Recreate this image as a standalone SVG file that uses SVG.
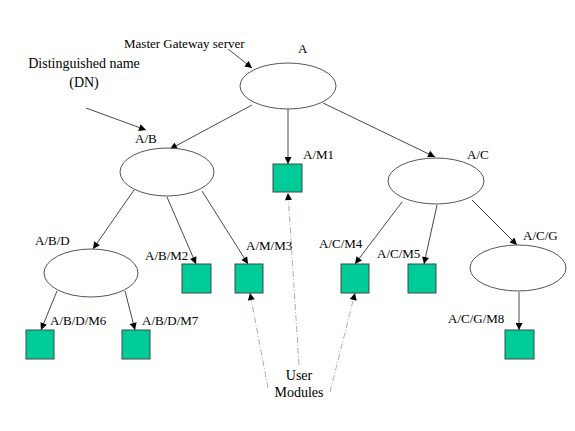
<svg xmlns="http://www.w3.org/2000/svg" width="575" height="431" viewBox="0 0 575 431">
<defs>
<marker id="ah" viewBox="0 0 10 10" refX="10" refY="5" markerWidth="8" markerHeight="7" markerUnits="userSpaceOnUse" orient="auto">
<path d="M0,0 L10,5 L0,10 z" fill="#000"/>
</marker>
</defs>
<style>
.e{fill:#fff;stroke:#555;stroke-width:1}
.m{fill:#00cc99;stroke:#3c4a46;stroke-width:1}
.c{stroke:#333;stroke-width:0.9;fill:none;marker-end:url(#ah)}
.d{stroke:#a4b4a8;stroke-width:1;fill:none;stroke-dasharray:6 2 1 2;marker-end:url(#ah)}
.t{font-family:"Liberation Serif","Times New Roman",serif;font-size:13px;fill:#000}
.b{font-family:"Liberation Serif","Times New Roman",serif;font-size:14px;fill:#000}
</style>
<rect width="575" height="431" fill="#fff"/>
<g id="connectors">
<line class="c" x1="228" y1="49" x2="252" y2="68"/>
<line class="c" x1="86" y1="108" x2="146" y2="130"/>
<line class="c" x1="252" y1="105" x2="170" y2="149"/>
<line class="c" x1="288" y1="109" x2="288" y2="164"/>
<line class="c" x1="323" y1="103" x2="435" y2="157"/>
<line class="c" x1="134" y1="190" x2="93" y2="249"/>
<line class="c" x1="167" y1="197" x2="196" y2="264"/>
<line class="c" x1="202" y1="191" x2="248" y2="264"/>
<line class="c" x1="402" y1="202" x2="355" y2="264"/>
<line class="c" x1="437" y1="205" x2="424" y2="264"/>
<line class="c" x1="472" y1="200" x2="517" y2="245"/>
<line class="c" x1="57" y1="291" x2="41" y2="330"/>
<line class="c" x1="125" y1="291" x2="135" y2="330"/>
<line class="c" x1="519" y1="292" x2="519" y2="330"/>
<line class="d" x1="299" y1="365" x2="288" y2="193"/>
<line class="d" x1="268" y1="388" x2="250" y2="293"/>
<line class="d" x1="330" y1="392" x2="355" y2="293"/>
</g>
<g id="A"><ellipse class="e" cx="288" cy="86" rx="48" ry="23"/><text class="t" x="298" y="53">A</text></g>
<g id="AB"><ellipse class="e" cx="167" cy="172" rx="47" ry="24"/><text class="t" x="135" y="143">A/B</text></g>
<g id="AC"><ellipse class="e" cx="436" cy="181" rx="48" ry="23"/><text class="t" x="467" y="159">A/C</text></g>
<g id="ABD"><ellipse class="e" cx="91" cy="273" rx="47" ry="24"/><text class="t" x="35" y="245">A/B/D</text></g>
<g id="ACG"><ellipse class="e" cx="518" cy="268" rx="48" ry="23"/><text class="t" x="523" y="240">A/C/G</text></g>
<g id="AM1"><rect class="m" x="273" y="164" width="29" height="28"/><text class="t" x="303" y="159">A/M1</text></g>
<g id="ABM2"><rect class="m" x="182" y="264" width="29" height="29"/><text class="t" x="145" y="260">A/B/M2</text></g>
<g id="AMM3"><rect class="m" x="235" y="264" width="28" height="29"/><text class="t" x="246" y="250">A/M/M3</text></g>
<g id="ACM4"><rect class="m" x="341" y="264" width="28" height="29"/><text class="t" x="319" y="248">A/C/M4</text></g>
<g id="ACM5"><rect class="m" x="408" y="264" width="28" height="29"/><text class="t" x="377" y="258">A/C/M5</text></g>
<g id="ABDM6"><rect class="m" x="26" y="330" width="28" height="29"/><text class="t" x="50" y="325">A/B/D/M6</text></g>
<g id="ABDM7"><rect class="m" x="122" y="330" width="28" height="29"/><text class="t" x="142" y="325">A/B/D/M7</text></g>
<g id="ACGM8"><rect class="m" x="505" y="330" width="29" height="29"/><text class="t" x="448" y="323">A/C/G/M8</text></g>
<g id="labels">
<text class="t" x="124" y="48">Master Gateway server</text>
<text class="b" x="84" y="68" text-anchor="middle">Distinguished name</text>
<text class="b" x="84" y="87" text-anchor="middle">(DN)</text>
<text class="b" x="299" y="380" text-anchor="middle">User</text>
<text class="b" x="299" y="397" text-anchor="middle">Modules</text>
</g>
</svg>
